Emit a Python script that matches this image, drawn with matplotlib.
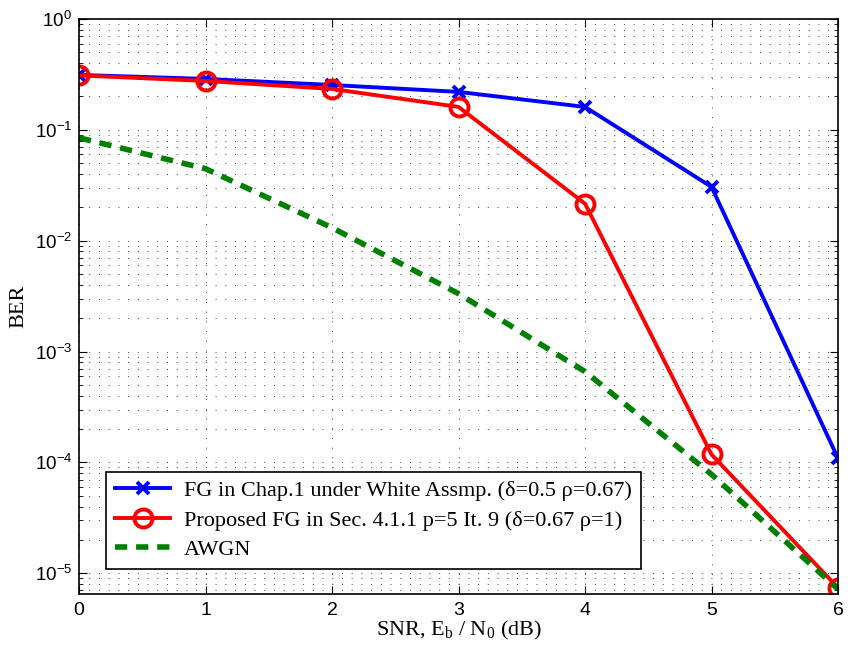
import numpy as np
import matplotlib
matplotlib.use('Agg')
import matplotlib.pyplot as plt
from matplotlib.ticker import LogLocator, NullFormatter

# data
snr = [0, 1, 2, 3, 4, 5, 6]
ber_white = [0.313, 0.288, 0.254, 0.220, 0.161, 0.0306, 1.09e-4]
ber_prop = [0.310, 0.276, 0.234, 0.161, 0.0216, 1.18e-4, 7.4e-6]
ber_awgn = [0.0848, 0.0446, 0.0131, 3.33e-3, 6.6e-4, 7.8e-5, 7.2e-6]

labels = ['FG in Chap.1 under White Assmp. (\u03b4=0.5 \u03c1=0.67)',
          'Proposed FG in Sec. 4.1.1 p=5 It. 9 (\u03b4=0.67 \u03c1=1)',
          'AWGN']

serif = ['Liberation Serif', 'DejaVu Serif']
sans = ['Liberation Sans', 'DejaVu Sans']

fig = plt.figure(figsize=(8.48, 6.55), dpi=100)
ax = fig.add_axes([0.0932, 0.0931, 0.8950, 0.8779])

ax.semilogy(snr, ber_white, color='blue', lw=2.8, marker='x', ms=8, mew=2.8, label=labels[0])
ax.semilogy(snr, ber_prop, color='red', lw=2.8, marker='o', ms=13, mew=2.8,
            mfc='none', label=labels[1])
ax.semilogy(snr, ber_awgn, color='green', lw=4, ls=(0, (2.2, 1.6)), label=labels[2])

ax.set_xlim(0, 6)
ax.set_ylim(6.5e-6, 1)
ax.yaxis.set_major_locator(LogLocator(base=10, numticks=10))
ax.yaxis.set_minor_locator(LogLocator(base=10, subs=np.arange(2, 10), numticks=10))
ax.yaxis.set_minor_formatter(NullFormatter())

grid_style = dict(ls=(0, (1, 9)), color='#444444', lw=0.7)
ax.grid(True, which='major', **grid_style)
ax.grid(True, which='minor', axis='y', **grid_style)

ax.tick_params(which='both', direction='in', top=True, right=True)
ax.tick_params(which='major', length=6)
ax.tick_params(axis='x', which='major', pad=6, labelsize=14)
ax.tick_params(axis='y', which='major', pad=5, labelsize=13.5)
ax.tick_params(which='minor', length=3)
for t in ax.get_xticklabels() + ax.get_yticklabels():
    t.set_fontfamily(sans)
for s in ax.spines.values():
    s.set_linewidth(1.2)

ax.set_xlabel(r'SNR, E$_\mathdefault{b}$ / N$_\mathdefault{0}$ (dB)', fontsize=16,
              fontfamily=serif, labelpad=0)
ax.set_ylabel('BER', fontsize=16, fontfamily=serif)
ax.yaxis.set_label_coords(-0.067, 0.5)

leg = ax.legend(loc='lower left', bbox_to_anchor=(0.0356, 0.0435), borderaxespad=0,
                prop={'family': serif, 'size': 16},
                fancybox=False, edgecolor='black', framealpha=1, handlelength=2.5,
                handletextpad=0.6, borderpad=0.4, labelspacing=0.4)
leg.get_frame().set_linewidth(1.2)

fig.savefig('out.png', dpi=100)
